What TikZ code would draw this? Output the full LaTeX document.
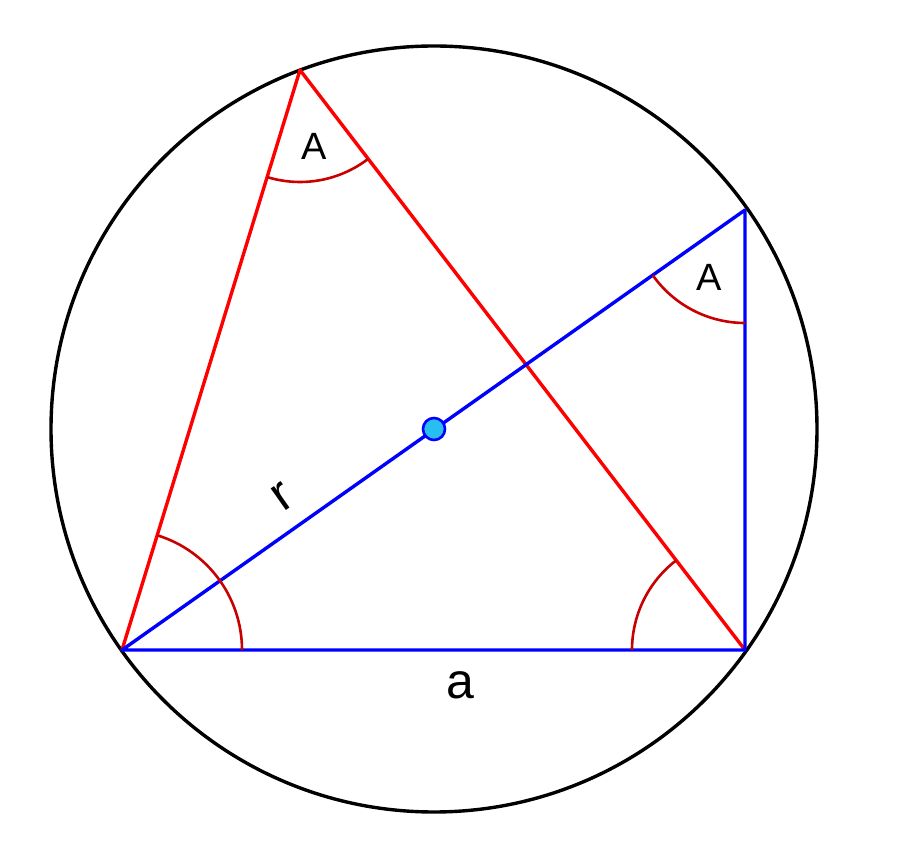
\documentclass[tikz,border=0pt]{standalone}
\usepackage{fontspec}
\setmainfont{Liberation Sans}
\begin{document}
\begin{tikzpicture}[x=1pt,y=1pt,
  red line/.style={red,line width=3.4pt},
  blue line/.style={blue,line width=3.4pt},
  ang/.style={color={rgb,255:red,200;green,0;blue,0},line width=2.6pt},
  lab/.style={font=\fontsize{38}{38}\selectfont},
  biglab/.style={font=\fontsize{50}{50}\selectfont}]
\useasboundingbox (0,0) rectangle (902,862);
\coordinate (O) at (434,433);
\coordinate (B) at (122,212);
\coordinate (C) at (745,212);
\coordinate (D) at (745,652);
\coordinate (T) at (300,792);
\draw[line width=3.4pt] (O) circle[radius=383];
\draw[red line,line join=round] (B) -- (T) -- (C);
\draw[blue line,line join=round] (B) -- (D) -- (C) -- cycle;
\draw[ang] ([shift={(252.94:112)}]T) arc[start angle=252.94,end angle=307.5,radius=112];
\draw[ang] ([shift={(215.2:113)}]D) arc[start angle=215.2,end angle=270,radius=113];
\draw[ang] ([shift={(0:120)}]B) arc[start angle=0,end angle=72.94,radius=120];
\draw[ang] ([shift={(127.5:113)}]C) arc[start angle=127.5,end angle=180,radius=113];
\node[circle,draw=blue,fill={rgb,255:red,40;green,190;blue,240},line width=2.6pt,inner sep=0pt,minimum size=22pt] (dot) at (O) {};
\node[lab] (lA1) at (314,716) {A};
\node[lab] (lA2) at (709,585) {A};
\node[biglab,rotate=35] (lr) at (283,365) {r};
\node[biglab] (la) at (460,177) {a};
\end{tikzpicture}
\end{document}
